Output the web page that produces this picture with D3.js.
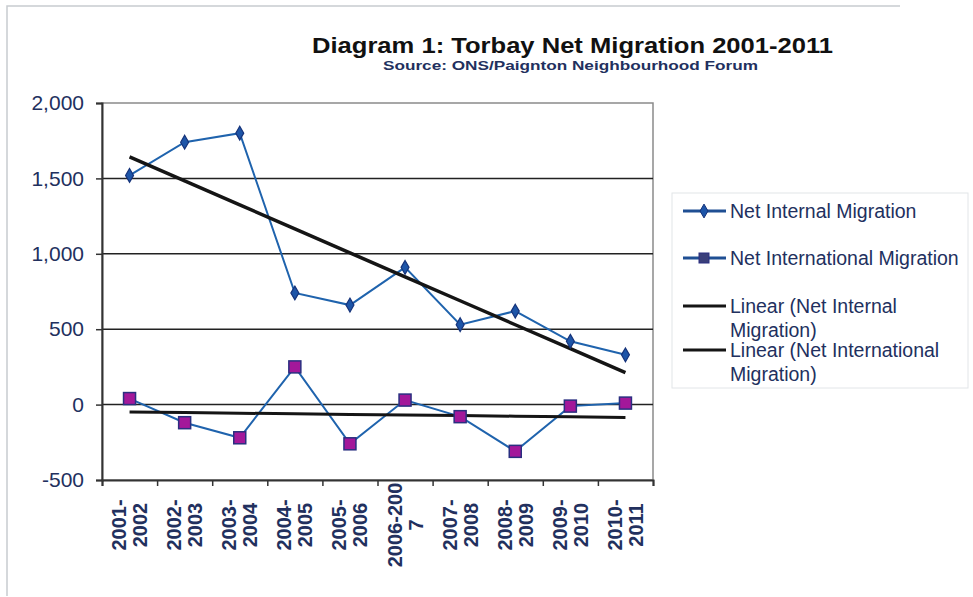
<!DOCTYPE html>
<html>
<head>
<meta charset="utf-8">
<script src="https://cdn.jsdelivr.net/npm/d3@7"></script>
<style>
  body { margin: 0; background: #fff; }
  svg { display: block; font-family: "Liberation Sans", Arial, sans-serif; }
</style>
</head>
<body>
<div class="chart"></div>
<script>
// data
var periods = ["2001-2002", "2002-2003", "2003-2004", "2004-2005", "2005-2006",
  "2006-2007", "2007-2008", "2008-2009", "2009-2010", "2010-2011"];
var periodLines = [["2001-", "2002"], ["2002-", "2003"], ["2003-", "2004"], ["2004-", "2005"],
  ["2005-", "2006"], ["2006-200", "7"], ["2007-", "2008"], ["2008-", "2009"],
  ["2009-", "2010"], ["2010-", "2011"]];
var internalMig = [1520, 1740, 1800, 740, 660, 910, 530, 620, 420, 330];
var internationalMig = [40, -120, -220, 250, -260, 30, -80, -310, -10, 10];
var yTicks = [-500, 0, 500, 1000, 1500, 2000];
var legendLabels = [["Net Internal Migration"], ["Net International Migration"],
  ["Linear (Net Internal", "Migration)"], ["Linear (Net International", "Migration)"]];

var svgWidth = 973;
var svgHeight = 597;
var margin = { top: 103, right: 320, bottom: 117, left: 102 };
var width = svgWidth - margin.left - margin.right;
var height = svgHeight - margin.top - margin.bottom;

var navy = "#22305e";
var lineBlue = "#1f63ad";

var svg = d3.select(".chart")
  .append("svg")
  .attr("width", svgWidth)
  .attr("height", svgHeight);

// faint outer frame of the scanned figure
svg.append("path")
  .attr("d", "M7,596 L7,6 L900,6")
  .attr("fill", "none")
  .attr("stroke", "#c8ccd0")
  .attr("stroke-width", 1.5);

svg.append("text")
  .attr("x", 312).attr("y", 53)
  .attr("font-size", 22).attr("font-weight", "bold")
  .attr("textLength", 521).attr("lengthAdjust", "spacingAndGlyphs")
  .attr("fill", "#111")
  .text("Diagram 1: Torbay Net Migration 2001-2011");

svg.append("text")
  .attr("x", 383).attr("y", 70)
  .attr("font-size", 13.5).attr("font-weight", "bold")
  .attr("textLength", 375).attr("lengthAdjust", "spacingAndGlyphs")
  .attr("fill", navy)
  .text("Source: ONS/Paignton Neighbourhood Forum");

var chartGroup = svg.append("g")
  .attr("transform", `translate(${margin.left}, ${margin.top})`);

var xScale = d3.scaleBand()
  .domain(periods)
  .range([0, width]);

var yScale = d3.scaleLinear()
  .domain([-500, 2000])
  .range([height, 0]);

var xc = d => xScale(d) + xScale.bandwidth() / 2;

// plot border + gridlines
chartGroup.append("rect")
  .attr("width", width).attr("height", height)
  .attr("fill", "none").attr("stroke", "#8a8a8a").attr("stroke-width", 1.5);

chartGroup.selectAll(".grid")
  .data(yTicks.filter(t => t > -500 && t < 2000))
  .enter()
  .append("line")
  .attr("x1", 0).attr("x2", width)
  .attr("y1", d => yScale(d)).attr("y2", d => yScale(d))
  .attr("stroke", "#222").attr("stroke-width", 1.5);

// axes
var leftAxis = d3.axisLeft(yScale)
  .tickValues(yTicks)
  .tickSize(6)
  .tickFormat(d => d3.format(",")(d).replace("\u2212", "-"));

var yAxisG = chartGroup.append("g").call(leftAxis);
yAxisG.select(".domain").attr("stroke", "#333").attr("stroke-width", 2);
yAxisG.selectAll(".tick line").attr("stroke", "#333").attr("stroke-width", 1.5);
yAxisG.selectAll(".tick text")
  .attr("font-size", 21).attr("fill", navy)
  .attr("font-family", "Liberation Sans, Arial, sans-serif")
  .attr("x", -18);

var bottomAxis = d3.axisBottom(d3.scaleLinear().domain([0, periods.length]).range([0, width]))
  .ticks(periods.length)
  .tickSize(6)
  .tickFormat("");

var xAxisG = chartGroup.append("g")
  .attr("transform", `translate(0, ${height})`)
  .call(bottomAxis);
xAxisG.select(".domain").attr("stroke", "#333").attr("stroke-width", 2);
xAxisG.selectAll(".tick line").attr("stroke", "#333").attr("stroke-width", 1.5);

// rotated category labels
var labelG = chartGroup.selectAll(".xlab")
  .data(periods)
  .enter()
  .append("text")
  .attr("class", "xlab")
  .attr("transform", d => `translate(${xc(d)}, ${height + 45}) rotate(-90)`)
  .attr("text-anchor", "middle")
  .attr("font-size", 20).attr("font-weight", "bold")
  .attr("fill", navy);

labelG.each(function (d, i) {
  var lines = periodLines[i];
  d3.select(this).selectAll("tspan")
    .data(lines)
    .enter()
    .append("tspan")
    .attr("x", 0)
    .attr("y", (l, j) => (j - (lines.length - 1) / 2) * 21 + 7)
    .text(l => l);
});

// linear trend lines (least squares on the series)
function trend(vals) {
  var xs = vals.map((v, i) => i + 1);
  var mx = d3.mean(xs), my = d3.mean(vals);
  var sxy = d3.sum(xs, (x, i) => (x - mx) * (vals[i] - my));
  var sxx = d3.sum(xs, x => (x - mx) * (x - mx));
  var b = sxy / sxx, a = my - b * mx;
  return xs.map(x => a + b * x);
}

var line = d3.line()
  .x((d, i) => xc(periods[i]))
  .y(d => yScale(d));

chartGroup.append("path")
  .attr("d", line(internationalMig))
  .attr("fill", "none").attr("stroke", lineBlue).attr("stroke-width", 2);

chartGroup.append("path")
  .attr("d", line(internalMig))
  .attr("fill", "none").attr("stroke", lineBlue).attr("stroke-width", 2);

chartGroup.append("path")
  .attr("d", line(trend(internalMig)))
  .attr("fill", "none").attr("stroke", "#151515").attr("stroke-width", 3.5);

chartGroup.append("path")
  .attr("d", line(trend(internationalMig)))
  .attr("fill", "none").attr("stroke", "#151515").attr("stroke-width", 3);

var diamond = d3.symbol().type(d3.symbolDiamond).size(55);

chartGroup.selectAll(".dia")
  .data(internalMig)
  .enter()
  .append("path")
  .attr("class", "dia")
  .attr("d", diamond)
  .attr("transform", (d, i) => `translate(${xc(periods[i])}, ${yScale(d)})`)
  .attr("fill", "#1d55a8").attr("stroke", "#16337a").attr("stroke-width", 1.2);

chartGroup.selectAll(".sq")
  .data(internationalMig)
  .enter()
  .append("rect")
  .attr("class", "sq")
  .attr("x", (d, i) => xc(periods[i]) - 6)
  .attr("y", d => yScale(d) - 6)
  .attr("width", 12).attr("height", 12)
  .attr("fill", "#a3189a").attr("stroke", "#2a2f80").attr("stroke-width", 1.5);

// legend
var legend = svg.append("g");
legend.append("rect")
  .attr("x", 672).attr("y", 193).attr("width", 296).attr("height", 195)
  .attr("fill", "none").attr("stroke", "#e2e5e8").attr("stroke-width", 1);

var legendY = [211, 258, 306, 350];
legendLabels.forEach(function (lab, i) {
  var y = legendY[i];
  legend.append("line")
    .attr("x1", 683).attr("x2", 726).attr("y1", y).attr("y2", y)
    .attr("stroke", i < 2 ? "#1f4f93" : "#151515")
    .attr("stroke-width", 3);
  if (i === 0) {
    legend.append("path").attr("d", diamond)
      .attr("transform", `translate(704, ${y})`)
      .attr("fill", "#1d55a8").attr("stroke", "#16337a");
  } else if (i === 1) {
    legend.append("rect")
      .attr("x", 699).attr("y", y - 5).attr("width", 10).attr("height", 10)
      .attr("fill", "#3a3f7a").attr("stroke", "#2a2f80");
  }
  var t = legend.append("text")
    .attr("font-size", 19.5).attr("fill", navy);
  lab.forEach(function (l, j) {
    t.append("tspan").attr("x", 730).attr("y", y + 7 + j * 24).text(l);
  });
});
</script>
</body>
</html>
